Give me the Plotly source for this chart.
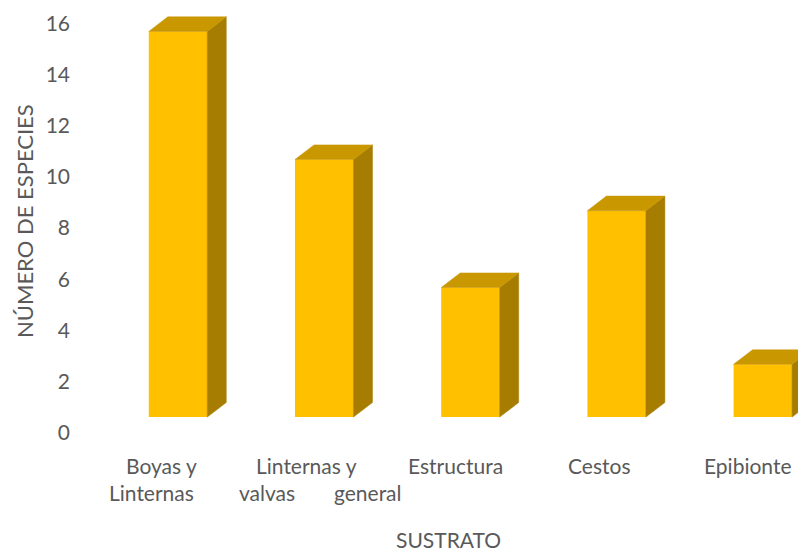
"""3D-style column chart: especies por sustrato."""
import plotly.graph_objects as go

categories = ["Boyas y Linternas", "Linternas y valvas", "Estructura general", "Cestos", "Epibionte"]
especies = [16, 11, 6, 9, 3]
y_ticks = [0, 2, 4, 6, 8, 10, 12, 14, 16]

# label fragments as Excel wrapped them (text, category index, offset, line)
label_lines = [
    ("Boyas y", 0, -0.11, 1), ("Linternas", 0, -0.18, 2),
    ("Linternas y", 1, -0.12, 1), ("valvas", 1, -0.39, 2),
    ("Estructura", 2, -0.10, 1), ("general", 2, -0.70, 2),
    ("Cestos", 3, -0.12, 1),
    ("Epibionte", 4, -0.10, 1),
]

FRONT, TOP, SIDE = "#FFC000", "#C99700", "#A67D00"
TXT = "#595959"
FONT = "Lato, Calibri, sans-serif"
W = 0.40      # front face width (category units)
DX = 0.13     # depth offset in x
DY = 0.57     # depth offset in y
FLOOR = 0.62  # projected floor of the front face
SHIFT = 0.32  # front top sits below the value

xs = list(range(len(categories)))
fronts = [v - SHIFT for v in especies]

fig = go.Figure()
fig.add_trace(go.Bar(
    x=xs, y=[t - FLOOR for t in fronts], base=FLOOR, width=W,
    marker=dict(color=FRONT, line=dict(width=0)), hoverinfo="skip",
))

side_x, side_y, top_x, top_y = [], [], [], []
for x, t in zip(xs, fronts):
    r = x + W / 2
    l = x - W / 2
    side_x += [r, r + DX, r + DX, r, r, None]
    side_y += [FLOOR, FLOOR + DY, t + DY, t, FLOOR, None]
    top_x += [l, l + DX, r + DX, r, l, None]
    top_y += [t, t + DY, t + DY, t, t, None]

fig.add_trace(go.Scatter(x=side_x, y=side_y, mode="lines", fill="toself",
                         fillcolor=SIDE, line=dict(width=0.5, color=SIDE), hoverinfo="skip"))
fig.add_trace(go.Scatter(x=top_x, y=top_y, mode="lines", fill="toself",
                         fillcolor=TOP, line=dict(width=0.5, color=TOP), hoverinfo="skip"))

for text, i, off, line in label_lines:
    fig.add_annotation(x=i + off, xref="x", y=0, yref="paper", yanchor="middle",
                       yshift=-32 if line == 1 else -59, text=text, showarrow=False,
                       font=dict(size=21, color=TXT))

fig.add_annotation(x=0.5, xref="paper", y=0, yref="paper", yanchor="middle",
                   yshift=-106, text="SUSTRATO", showarrow=False,
                   font=dict(size=21, color=TXT))
fig.add_annotation(x=0, xref="paper", y=0.5, yref="paper", xanchor="center",
                   yanchor="middle", xshift=-59, yshift=2, textangle=-90,
                   text="NÚMERO DE ESPECIES", showarrow=False,
                   font=dict(size=22, color=TXT))

fig.update_layout(
    width=806, height=553,
    paper_bgcolor="white", plot_bgcolor="white",
    font=dict(family=FONT, color=TXT, size=21),
    margin=dict(l=75, r=0, t=5, b=128),
    showlegend=False,
)

fig.update_xaxes(range=[-0.65, 4.35], showticklabels=False, showgrid=False,
                 zeroline=False, showline=False, automargin=False)
fig.update_yaxes(range=[0, 16.4], tickvals=y_ticks, showgrid=False, zeroline=False,
                 showline=False, ticklabelstandoff=12, automargin=False,
                 tickfont=dict(size=21, color=TXT))

fig.write_html("out.html")
